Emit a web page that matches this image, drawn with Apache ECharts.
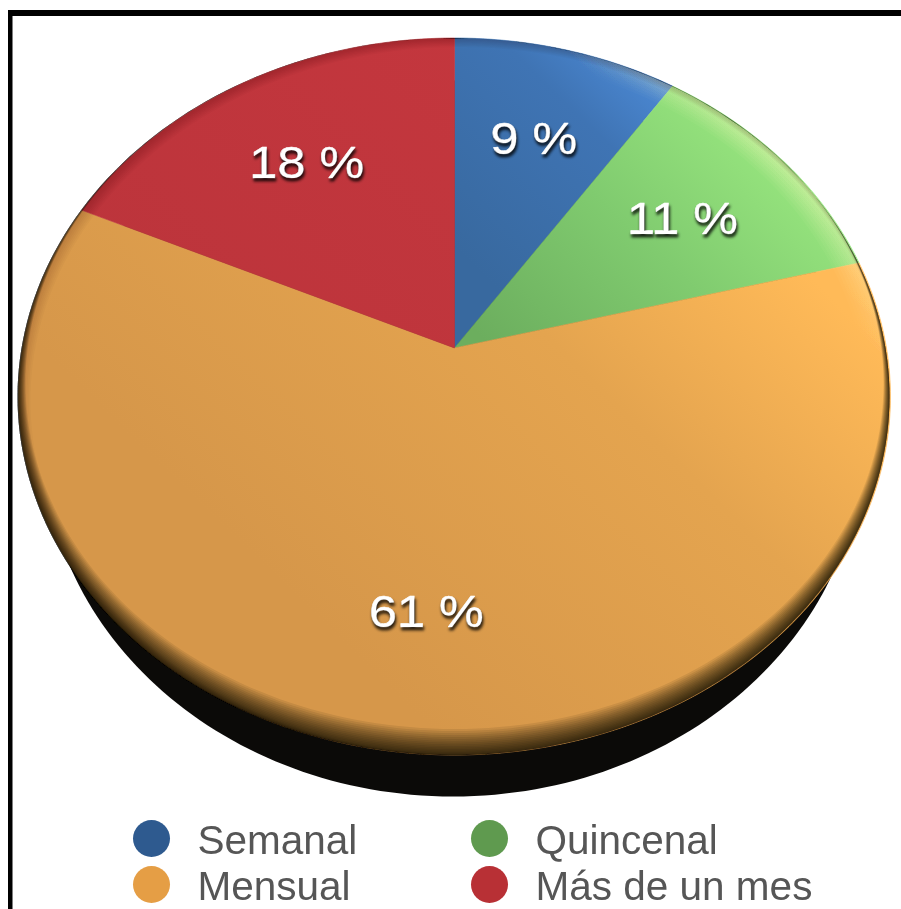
<!DOCTYPE html>
<html>
<head>
<meta charset="utf-8">
<style>html,body{margin:0;padding:0;background:#fff}#c{width:901px;height:909px}#c canvas{filter:blur(0.6px)}</style>
<script src="https://cdn.jsdelivr.net/npm/echarts@6/dist/echarts.min.js"></script>
</head>
<body>
<div id="c"></div>
<script>
const categories = ['Semanal', 'Quincenal', 'Mensual', 'Más de un mes'];
const values = [9.49, 11.49, 60.8, 18.22];
const legendColors = ['#2e5a8f', '#5f9a4f', '#e59e45', '#b83035'];

const sliceStops = [
  [[0.55, '#38699f'], [0.75, '#3f74b4'], [0.87, '#4f8fde']],
  [[0.5, '#6cae5e'], [0.7, '#80cb6f'], [0.88, '#98e67f']],
  [[0.15, '#d6974a'], [0.55, '#e4a44f'], [0.8, '#ffba58']],
  [[0, '#b8333a'], [1, '#c8383f']]
];

const apexX = 454.5, apexY = 348;       // where the slices meet
const rimRx = 436, rimRy = 358.5;       // projected rim of the disc
const tilt = 0.1353;                    // perspective strength
const rimCx = 453.5, rimCy = apexY + rimRy * tilt;
const projA = rimRx * Math.sqrt(1 - tilt * tilt);
const projB = rimRy * (1 - tilt * tilt);
const labelRadius = 0.68;
const lightAxis = { x: apexX - 250, y: apexY + 350, x2: apexX + 380, y2: apexY - 300 };

function project(theta, f) {
  const u = f * Math.sin(theta), v = -f * Math.cos(theta), w = 1 - tilt * v;
  return [apexX + projA * u / w, apexY + projB * v / w];
}
const total = values.reduce((a, b) => a + b, 0);
const starts = values.map((_, i) => values.slice(0, i).reduce((a, b) => a + b, 0));
function slicePoints(i) {
  const a0 = starts[i] / total * 2 * Math.PI, a1 = (starts[i] + values[i]) / total * 2 * Math.PI;
  const n = Math.max(8, Math.ceil((a1 - a0) * 80)), pts = [[apexX, apexY]];
  for (let k = 0; k <= n; k++) pts.push(project(a0 + (a1 - a0) * k / n, 1));
  return pts;
}
function ellipsePts(cx, cy, rx, ry, rev) {
  const pts = [];
  for (let k = 0; k <= 240; k++) {
    const t = (rev ? -1 : 1) * k / 240 * 2 * Math.PI;
    pts.push([cx + rx * Math.cos(t), cy + ry * Math.sin(t)]);
  }
  return pts;
}
function crescent(dx, dy, sx, sy, fill) {
  const pts = ellipsePts(rimCx, rimCy, rimRx, rimRy, false)
    .concat(ellipsePts(rimCx + dx, rimCy + dy, rimRx - sx, rimRy - sy, true));
  return { type: 'polygon', shape: { points: pts }, style: { fill: fill } };
}
function rimOverlays() {
  const out = [];
  const glow = Object.assign({ type: 'linear', global: true }, lightAxis, {
    colorStops: [
      { offset: 0.79, color: 'rgba(255,255,190,0)' },
      { offset: 0.87, color: 'rgba(255,255,190,0.07)' }
    ]
  });
  for (let i = 1; i <= 8; i++) {             // upper-right highlight
    const t = i / 8;
    out.push(crescent(-11 * t, 8 * t, 12 * t, 9 * t, glow));
  }
  for (let i = 1; i <= 8; i++) {             // upper-left dim edge
    const t = i / 8;
    out.push(crescent(6 * t, 4 * t, 7 * t, 5 * t, 'rgba(30,10,10,0.022)'));
  }
  for (let i = 1; i <= 16; i++) {            // lower soft shadow
    const t = Math.pow(i / 16, 1.3);
    out.push(crescent(1 * t, -13 * t, 7 * t, 13 * t, 'rgba(15,10,0,0.085)'));
  }
  return out;
}

const sliceSeries = categories.map((name, i) => {
  const fill = Object.assign({ type: 'linear', global: true }, lightAxis, {
    colorStops: sliceStops[i].map(s => ({ offset: s[0], color: s[1] }))
  });
  return {
    type: 'custom',
    name: name,
    coordinateSystem: 'none',
    z: 3,
    silent: true,
    animation: false,
    itemStyle: { color: legendColors[i] },
    data: [[values[i]]],
    renderItem: () => ({
      type: 'polygon',
      shape: { points: slicePoints(i) },
      style: { fill: fill, stroke: fill, lineWidth: 0.6 }
    })
  };
});

const baseSeries = {
  type: 'custom', coordinateSystem: 'none', z: 2, silent: true, animation: false,
  data: [[0]],
  renderItem: () => ({
    type: 'ellipse',
    shape: { cx: 453, cy: 438.5, rx: 410, ry: 358 },
    style: { fill: '#0b0a08' }
  })
};
const rimSeries = {
  type: 'custom', coordinateSystem: 'none', z: 4, silent: true, animation: false,
  data: [[0]],
  renderItem: () => ({ type: 'group', children: rimOverlays() })
};
const labelSeries = {
  type: 'custom', coordinateSystem: 'none', z: 5, silent: true, animation: false,
  data: values.map((v, i) => [v, i]),
  renderItem: (params, api) => {
    const i = api.value(1);
    const p = project((starts[i] + values[i] / 2) / total * 2 * Math.PI, labelRadius);
    return {
      type: 'text',
      x: p[0], y: p[1] + 4,
      scaleX: 1.12,
      style: {
        x: 0, y: 0,
        text: Math.round(api.value(0)) + ' %',
        align: 'center', verticalAlign: 'middle',
        fontFamily: 'Liberation Sans', fontSize: 45,
        fill: '#fff', stroke: '#fff', lineWidth: 0.6,
        textShadowColor: 'rgba(0,0,0,0.85)', textShadowBlur: 3,
        textShadowOffsetX: 1, textShadowOffsetY: 3
      }
    };
  }
};

const legendText = {
  fontFamily: 'Liberation Sans', fontSize: 40.5, color: '#565656',
  lineHeight: 34, padding: [0, 0, 0, 22],
  rich: {
    t: {
      fontFamily: 'Liberation Sans', fontSize: 40.5, color: '#565656',
      lineHeight: 34, padding: [8, 0, 0, 0]
    }
  }
};
const legendBase = {
  orient: 'vertical', top: 814, height: 140, icon: 'circle', itemWidth: 38, itemHeight: 37, itemGap: -3,
  selectedMode: false, textStyle: legendText, padding: 0, formatter: '{t|{name}}'
};
const chart = echarts.init(document.getElementById('c'), null, { renderer: 'canvas' });
chart.setOption({
  animation: false,
  backgroundColor: '#fff',
  legend: [
    Object.assign({}, legendBase, { data: [categories[0], categories[2]], left: 133 }),
    Object.assign({}, legendBase, { data: [categories[1], categories[3]], left: 471 })
  ],
  graphic: [
    { type: 'rect', z: 10, shape: { x: 8, y: 10, width: 893, height: 6 }, style: { fill: '#000' } },
    { type: 'rect', z: 10, shape: { x: 8, y: 10, width: 4.5, height: 899 }, style: { fill: '#000' } }
  ],
  series: [baseSeries].concat(sliceSeries, [rimSeries, labelSeries])
});
</script>
</body>
</html>
